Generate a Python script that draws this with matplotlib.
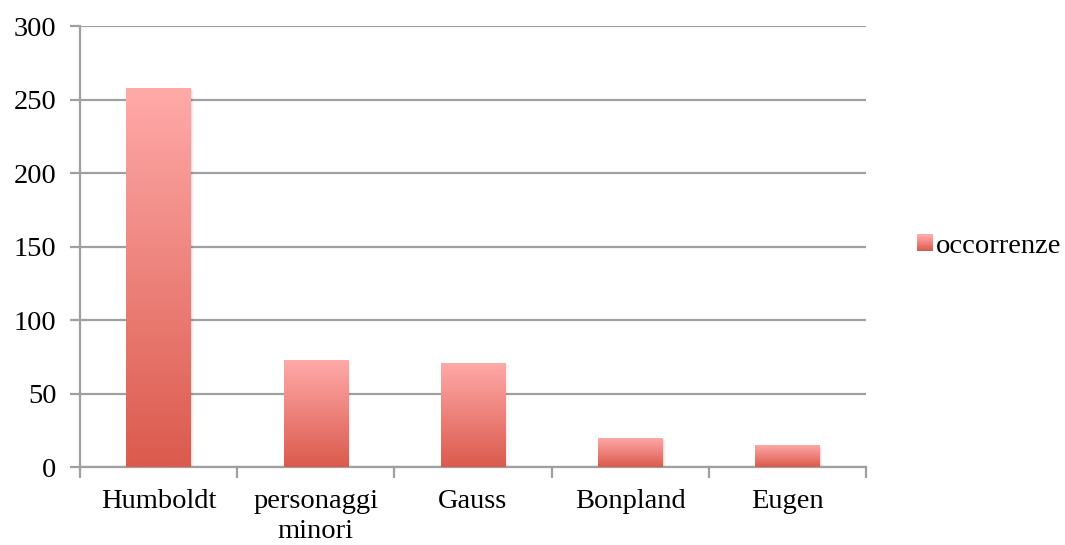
import numpy as np
import matplotlib
matplotlib.use("Agg")
import matplotlib.pyplot as plt
from matplotlib.patches import Rectangle
from matplotlib.colors import LinearSegmentedColormap
from matplotlib.legend_handler import HandlerBase

categories = ["Humboldt", "personaggi\nminori", "Gauss", "Bonpland", "Eugen"]
occorrenze = [258, 73, 71, 20, 15]
series_name = "occorrenze"
yticks = [0, 50, 100, 150, 200, 250, 300]

top_color = "#FFAAA9"
bottom_color = "#DB5A4D"
grid_color = "#A0A0A0"
cmap = LinearSegmentedColormap.from_list("bar_grad", [bottom_color, top_color])
grad = np.linspace(0, 1, 256).reshape(-1, 1)

plt.rcParams["font.family"] = ["Liberation Serif", "DejaVu Serif"]
FS = 20.5

fig = plt.figure(figsize=(10.65, 5.45), dpi=100)
ax = fig.add_axes([0.0751, 0.143, 0.738, 0.809])

x = np.arange(len(categories))
bars = ax.bar(x, occorrenze, width=0.41, color="none", zorder=3)

for b in bars:
    x0, y0 = b.get_x(), b.get_y()
    w, h = b.get_width(), b.get_height()
    # soft drop shadow
    for k, a in enumerate([0.06, 0.04, 0.025]):
        d = 0.012 * (k + 1)
        ax.add_patch(Rectangle((x0 + d * 0.6, y0), w, h - 0.6 * (k + 1),
                               facecolor="black", alpha=a, edgecolor="none", zorder=2))
    im = ax.imshow(grad, cmap=cmap, aspect="auto", origin="lower",
                   extent=(x0, x0 + w, y0, y0 + h), zorder=3)
    im.set_clip_path(b)

ax.set_xlim(-0.5, len(categories) - 0.5)
ax.set_ylim(0, 300)
ax.set_yticks(yticks)
ax.set_xticks(x)
ax.set_xticklabels(categories, linespacing=1.25)
ax.set_xticks(np.arange(len(categories) + 1) - 0.5, minor=True)

ax.yaxis.grid(True, color=grid_color, linewidth=1.6, zorder=1)
ax.set_axisbelow(True)
for side in ["top", "right"]:
    ax.spines[side].set_visible(False)
for side in ["left", "bottom"]:
    ax.spines[side].set_color(grid_color)
    ax.spines[side].set_linewidth(1.6)

ax.tick_params(axis="y", which="major", length=7, width=1.6, color=grid_color,
               labelsize=FS, pad=10)
ax.tick_params(axis="x", which="major", length=0, labelsize=FS, pad=16)
ax.tick_params(axis="x", which="minor", length=8, width=1.6, color=grid_color)


class GradientHandler(HandlerBase):
    def create_artists(self, legend, orig_handle, xdescent, ydescent,
                       width, height, fontsize, trans):
        n = 20
        size = height * 1.0
        x0 = -xdescent + (width - size) / 2
        y0 = -ydescent + (height - size) / 2
        arts = []
        for i in range(n):
            c = cmap(i / (n - 1))
            arts.append(Rectangle((x0, y0 + size * i / n), size, size / n + 0.3,
                                  facecolor=c, edgecolor="none", transform=trans))
        return arts


proxy = Rectangle((0, 0), 1, 1)
ax.legend([proxy], [series_name], handler_map={Rectangle: GradientHandler()},
          loc="center left", bbox_to_anchor=(1.066, 0.5), frameon=False,
          fontsize=FS, handlelength=0.5, handleheight=0.5, handletextpad=0.15,
          borderpad=0, borderaxespad=0)

fig.savefig("out.png", dpi=100)
